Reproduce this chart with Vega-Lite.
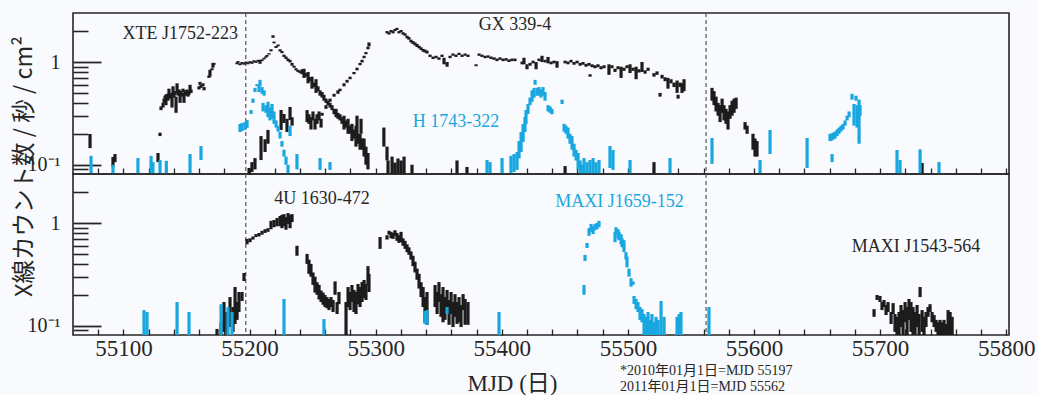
{
  "$schema": "https://vega.github.io/schema/vega-lite/v6.json",
  "background": "#f8fafd",
  "padding": {"left": 11, "top": 11, "right": 31, "bottom": 0},
  "bounds": "flush",
  "spacing": 0,
  "config": {
    "view": {"stroke": "#262626", "strokeWidth": 1.6},
    "axis": {"domain": false, "grid": false, "zindex": 1, "tickColor": "#262626", "labelColor": "#262626", "titleColor": "#262626", "labelFont": "Liberation Serif", "titleFont": "Liberation Serif", "titleFontWeight": "normal", "labelFlush": false, "labelOverlap": false}
  },
  "datasets": {
    "xte": [
      {"mjd":55073.5,"lo":0.145,"hi":0.199},{"mjd":55091.7,"lo":0.095,"hi":0.119},{"mjd":55093.3,"lo":0.106,"hi":0.127},{"mjd":55127.4,"lo":0.106,"hi":0.13},{"mjd":55129.0,"lo":0.19,"hi":0.205},{"mjd":55129.8,"lo":0.34,"hi":0.37},
      {"mjd":55131.4,"lo":0.36,"hi":0.40},{"mjd":55132.2,"lo":0.40,"hi":0.44},{"mjd":55133.0,"lo":0.43,"hi":0.47},{"mjd":55133.7,"lo":0.38,"hi":0.48},{"mjd":55134.5,"lo":0.45,"hi":0.49},{"mjd":55135.3,"lo":0.42,"hi":0.46},{"mjd":55136.1,"lo":0.45,"hi":0.55},{"mjd":55136.9,"lo":0.44,"hi":0.48},{"mjd":55137.7,"lo":0.46,"hi":0.50},{"mjd":55138.5,"lo":0.36,"hi":0.50},{"mjd":55139.3,"lo":0.47,"hi":0.58},{"mjd":55140.1,"lo":0.45,"hi":0.49},{"mjd":55140.9,"lo":0.48,"hi":0.52},{"mjd":55141.7,"lo":0.32,"hi":0.46},{"mjd":55142.5,"lo":0.50,"hi":0.62},{"mjd":55143.3,"lo":0.47,"hi":0.51},{"mjd":55144.1,"lo":0.50,"hi":0.54},{"mjd":55144.9,"lo":0.40,"hi":0.52},{"mjd":55145.6,"lo":0.48,"hi":0.52},{"mjd":55146.4,"lo":0.46,"hi":0.50},{"mjd":55147.2,"lo":0.51,"hi":0.55},{"mjd":55148.0,"lo":0.40,"hi":0.50},{"mjd":55148.8,"lo":0.49,"hi":0.53},{"mjd":55149.6,"lo":0.47,"hi":0.51},{"mjd":55150.4,"lo":0.50,"hi":0.54},{"mjd":55151.2,"lo":0.46,"hi":0.50},{"mjd":55152.0,"lo":0.48,"hi":0.52},{"mjd":55152.8,"lo":0.50,"hi":0.60},{"mjd":55153.6,"lo":0.50,"hi":0.54},
      {"mjd":55159.9,"lo":0.54,"hi":0.58},{"mjd":55160.7,"lo":0.60,"hi":0.64},{"mjd":55161.5,"lo":0.56,"hi":0.60},{"mjd":55163.1,"lo":0.58,"hi":0.62},{"mjd":55163.9,"lo":0.53,"hi":0.57},{"mjd":55167.8,"lo":0.70,"hi":0.74},{"mjd":55168.6,"lo":0.72,"hi":0.84},{"mjd":55170.2,"lo":0.83,"hi":0.87},{"mjd":55171.0,"lo":0.88,"hi":0.98},{"mjd":55171.8,"lo":0.94,"hi":0.98},
      {"mjd":55190.1,"lo":0.95,"hi":0.99},{"mjd":55190.8,"lo":0.98,"hi":1.02},{"mjd":55192.4,"lo":0.93,"hi":0.97},{"mjd":55194.0,"lo":0.96,"hi":1.00},{"mjd":55195.6,"lo":0.94,"hi":0.98},{"mjd":55197.2,"lo":0.97,"hi":1.01},{"mjd":55198.8,"lo":0.95,"hi":0.99},{"mjd":55200.4,"lo":0.98,"hi":1.02},{"mjd":55201.9,"lo":0.96,"hi":1.00},{"mjd":55203.5,"lo":1.00,"hi":1.04},{"mjd":55205.1,"lo":0.98,"hi":1.02},{"mjd":55206.7,"lo":1.01,"hi":1.05},{"mjd":55208.3,"lo":0.96,"hi":1.05},{"mjd":55209.9,"lo":1.02,"hi":1.06},{"mjd":55211.5,"lo":1.06,"hi":1.10},{"mjd":55213.0,"lo":1.10,"hi":1.14},{"mjd":55213.8,"lo":1.13,"hi":1.17},{"mjd":55215.4,"lo":1.18,"hi":1.22},{"mjd":55217.0,"lo":1.27,"hi":1.33},{"mjd":55218.6,"lo":1.72,"hi":1.82},{"mjd":55219.4,"lo":1.52,"hi":1.58},{"mjd":55221.0,"lo":1.37,"hi":1.43},{"mjd":55222.6,"lo":1.42,"hi":1.48},{"mjd":55224.2,"lo":1.27,"hi":1.33},{"mjd":55225.7,"lo":1.22,"hi":1.28},{"mjd":55227.3,"lo":1.12,"hi":1.18},{"mjd":55228.9,"lo":1.07,"hi":1.13},{"mjd":55230.5,"lo":1.02,"hi":1.08},{"mjd":55232.1,"lo":0.99,"hi":1.05},{"mjd":55233.7,"lo":0.92,"hi":0.98},{"mjd":55235.3,"lo":0.88,"hi":0.92},{"mjd":55236.8,"lo":0.83,"hi":0.87},{"mjd":55238.4,"lo":0.80,"hi":0.84},{"mjd":55240.0,"lo":0.78,"hi":0.82},{"mjd":55241.6,"lo":0.76,"hi":0.85},
      {"mjd":55243.2,"lo":0.70,"hi":0.86},{"mjd":55244.8,"lo":0.72,"hi":0.78},{"mjd":55246.4,"lo":0.62,"hi":0.80},{"mjd":55247.9,"lo":0.65,"hi":0.71},{"mjd":55249.5,"lo":0.55,"hi":0.72},{"mjd":55251.1,"lo":0.57,"hi":0.63},{"mjd":55252.7,"lo":0.50,"hi":0.68},{"mjd":55254.3,"lo":0.52,"hi":0.58},{"mjd":55255.9,"lo":0.47,"hi":0.53},{"mjd":55257.5,"lo":0.45,"hi":0.51},{"mjd":55259.0,"lo":0.42,"hi":0.48},{"mjd":55260.6,"lo":0.40,"hi":0.44},{"mjd":55262.2,"lo":0.38,"hi":0.42},{"mjd":55263.8,"lo":0.36,"hi":0.40},{"mjd":55265.4,"lo":0.34,"hi":0.38},{"mjd":55267.0,"lo":0.31,"hi":0.35},{"mjd":55268.6,"lo":0.29,"hi":0.35},{"mjd":55270.1,"lo":0.28,"hi":0.32},{"mjd":55271.7,"lo":0.27,"hi":0.31},{"mjd":55273.3,"lo":0.25,"hi":0.29},{"mjd":55274.9,"lo":0.22,"hi":0.30},{"mjd":55276.5,"lo":0.23,"hi":0.27},{"mjd":55278.1,"lo":0.20,"hi":0.28},{"mjd":55279.7,"lo":0.20,"hi":0.24},{"mjd":55281.2,"lo":0.17,"hi":0.25},{"mjd":55282.8,"lo":0.18,"hi":0.22},{"mjd":55284.4,"lo":0.15,"hi":0.24},{"mjd":55285.2,"lo":0.19,"hi":0.30},{"mjd":55286.0,"lo":0.16,"hi":0.20},{"mjd":55287.6,"lo":0.14,"hi":0.20},{"mjd":55288.4,"lo":0.20,"hi":0.28},{"mjd":55289.2,"lo":0.14,"hi":0.18},{"mjd":55290.8,"lo":0.12,"hi":0.18},{"mjd":55292.3,"lo":0.10,"hi":0.15},{"mjd":55293.9,"lo":0.09,"hi":0.13},
      {"mjd":55306.5,"lo":0.15,"hi":0.23},{"mjd":55309.0,"lo":0.11,"hi":0.15},{"mjd":55309.8,"lo":0.07,"hi":0.11},{"mjd":55313.0,"lo":0.07,"hi":0.12},{"mjd":55315.3,"lo":0.075,"hi":0.105},{"mjd":55317.7,"lo":0.07,"hi":0.115},{"mjd":55320.1,"lo":0.07,"hi":0.11},{"mjd":55322.5,"lo":0.075,"hi":0.12},{"mjd":55328.8,"lo":0.08,"hi":0.1},{"mjd":55364.5,"lo":0.08,"hi":0.11},{"mjd":55372.4,"lo":0.075,"hi":0.095},{"mjd":55450.2,"lo":0.078,"hi":0.097},{"mjd":55520.7,"lo":0.078,"hi":0.106},{"mjd":55733.3,"lo":0.078,"hi":0.104}
    ],
    "gx": [
      {"mjd":55199.6,"lo":0.078,"hi":0.093},{"mjd":55201.9,"lo":0.085,"hi":0.106},{"mjd":55204.3,"lo":0.09,"hi":0.116},{"mjd":55209.1,"lo":0.111,"hi":0.19},{"mjd":55212.3,"lo":0.133,"hi":0.177},{"mjd":55214.6,"lo":0.16,"hi":0.218},{"mjd":55225.0,"lo":0.218,"hi":0.341},{"mjd":55227.3,"lo":0.255,"hi":0.312},{"mjd":55229.7,"lo":0.208,"hi":0.28},{"mjd":55232.1,"lo":0.272,"hi":0.365},{"mjd":55233.7,"lo":0.24,"hi":0.29},
      {"mjd":55245.6,"lo":0.26,"hi":0.34},{"mjd":55247.1,"lo":0.25,"hi":0.31},{"mjd":55248.7,"lo":0.22,"hi":0.29},{"mjd":55250.3,"lo":0.27,"hi":0.33},{"mjd":55251.9,"lo":0.22,"hi":0.28},{"mjd":55253.5,"lo":0.25,"hi":0.31},{"mjd":55255.1,"lo":0.27,"hi":0.33},{"mjd":55256.7,"lo":0.23,"hi":0.28},
      {"mjd":55257.5,"lo":0.30,"hi":0.32},{"mjd":55260.6,"lo":0.35,"hi":0.38},{"mjd":55263.8,"lo":0.41,"hi":0.44},{"mjd":55267.0,"lo":0.46,"hi":0.49},{"mjd":55270.1,"lo":0.49,"hi":0.53},{"mjd":55271.7,"lo":0.52,"hi":0.55},{"mjd":55274.9,"lo":0.58,"hi":0.62},{"mjd":55277.3,"lo":0.63,"hi":0.67},{"mjd":55279.7,"lo":0.68,"hi":0.72},{"mjd":55282.8,"lo":0.76,"hi":0.80},{"mjd":55285.2,"lo":0.83,"hi":0.88},{"mjd":55287.6,"lo":0.93,"hi":0.98},{"mjd":55289.2,"lo":0.99,"hi":1.05},{"mjd":55290.8,"lo":1.09,"hi":1.15},{"mjd":55292.3,"lo":1.19,"hi":1.25},{"mjd":55293.9,"lo":1.33,"hi":1.41},{"mjd":55294.7,"lo":1.42,"hi":1.55},
      {"mjd":55309.0,"lo":1.90,"hi":2.00},{"mjd":55310.6,"lo":1.85,"hi":1.95},{"mjd":55312.2,"lo":1.95,"hi":2.05},{"mjd":55313.8,"lo":1.90,"hi":2.00},{"mjd":55315.3,"lo":2.00,"hi":2.10},{"mjd":55316.9,"lo":2.05,"hi":2.15},{"mjd":55318.5,"lo":1.90,"hi":2.00},{"mjd":55320.1,"lo":1.95,"hi":2.05},{"mjd":55321.7,"lo":1.85,"hi":1.95},{"mjd":55323.3,"lo":1.80,"hi":1.90},{"mjd":55324.9,"lo":1.70,"hi":1.80},{"mjd":55326.4,"lo":1.65,"hi":1.75},{"mjd":55328.0,"lo":1.55,"hi":1.65},{"mjd":55329.6,"lo":1.50,"hi":1.60},{"mjd":55331.2,"lo":1.45,"hi":1.55},{"mjd":55332.8,"lo":1.40,"hi":1.50},{"mjd":55334.4,"lo":1.36,"hi":1.44},{"mjd":55336.0,"lo":1.31,"hi":1.39},{"mjd":55337.6,"lo":1.26,"hi":1.34},{"mjd":55339.1,"lo":1.24,"hi":1.32},{"mjd":55340.7,"lo":1.21,"hi":1.29},
      {"mjd":55343.1,"lo":1.12,"hi":1.18},{"mjd":55345.5,"lo":1.07,"hi":1.13},{"mjd":55347.9,"lo":1.09,"hi":1.15},{"mjd":55350.2,"lo":1.05,"hi":1.11},{"mjd":55352.6,"lo":1.12,"hi":1.18},{"mjd":55354.2,"lo":0.95,"hi":1.10},{"mjd":55356.6,"lo":0.90,"hi":1.00},{"mjd":55359.0,"lo":1.09,"hi":1.15},{"mjd":55361.3,"lo":1.15,"hi":1.21},{"mjd":55363.7,"lo":1.12,"hi":1.18},{"mjd":55366.1,"lo":1.17,"hi":1.23},{"mjd":55368.5,"lo":1.12,"hi":1.18},{"mjd":55370.9,"lo":1.15,"hi":1.21},{"mjd":55373.2,"lo":1.12,"hi":1.18},
      {"mjd":55379.6,"lo":0.91,"hi":0.95},{"mjd":55382.0,"lo":1.15,"hi":1.21},{"mjd":55384.3,"lo":1.12,"hi":1.18},{"mjd":55386.7,"lo":1.09,"hi":1.15},{"mjd":55389.1,"lo":1.10,"hi":1.16},{"mjd":55391.5,"lo":1.07,"hi":1.13},{"mjd":55393.9,"lo":1.05,"hi":1.11},{"mjd":55396.2,"lo":1.02,"hi":1.08},{"mjd":55398.6,"lo":1.05,"hi":1.11},{"mjd":55401.0,"lo":1.02,"hi":1.08},{"mjd":55403.4,"lo":1.03,"hi":1.09},{"mjd":55405.7,"lo":1.00,"hi":1.06},{"mjd":55408.1,"lo":1.02,"hi":1.08},{"mjd":55410.5,"lo":1.02,"hi":1.08},
      {"mjd":55416.1,"lo":0.95,"hi":1.01},{"mjd":55417.6,"lo":0.95,"hi":1.10},{"mjd":55420.0,"lo":0.85,"hi":0.95},{"mjd":55422.4,"lo":0.92,"hi":0.98},{"mjd":55424.8,"lo":0.97,"hi":1.03},{"mjd":55427.2,"lo":0.85,"hi":1.00},{"mjd":55429.5,"lo":1.02,"hi":1.08},{"mjd":55431.9,"lo":1.00,"hi":1.15},{"mjd":55434.3,"lo":0.99,"hi":1.05},{"mjd":55436.7,"lo":0.97,"hi":1.12},{"mjd":55439.1,"lo":0.95,"hi":1.01},{"mjd":55441.4,"lo":0.97,"hi":1.03},{"mjd":55443.8,"lo":0.88,"hi":1.02},
      {"mjd":55450.2,"lo":0.97,"hi":1.03},{"mjd":55452.5,"lo":0.95,"hi":1.01},{"mjd":55454.9,"lo":0.99,"hi":1.05},{"mjd":55457.3,"lo":0.94,"hi":1.00},{"mjd":55459.7,"lo":0.97,"hi":1.03},{"mjd":55462.1,"lo":0.92,"hi":0.98},{"mjd":55464.4,"lo":0.94,"hi":1.00},{"mjd":55466.8,"lo":0.90,"hi":0.96},{"mjd":55469.2,"lo":0.92,"hi":0.98},{"mjd":55470.0,"lo":0.72,"hi":0.76},{"mjd":55471.6,"lo":0.89,"hi":0.95},{"mjd":55473.9,"lo":0.87,"hi":0.93},{"mjd":55476.3,"lo":0.89,"hi":0.95},{"mjd":55478.7,"lo":0.85,"hi":0.91},{"mjd":55481.1,"lo":0.87,"hi":0.93},
      {"mjd":55485.0,"lo":0.75,"hi":0.95},{"mjd":55487.4,"lo":0.87,"hi":0.93},{"mjd":55489.8,"lo":0.80,"hi":0.86},{"mjd":55492.2,"lo":0.85,"hi":0.91},{"mjd":55494.6,"lo":0.70,"hi":0.90},{"mjd":55496.9,"lo":0.82,"hi":0.88},{"mjd":55499.3,"lo":0.87,"hi":0.93},{"mjd":55501.7,"lo":0.78,"hi":0.95},{"mjd":55504.1,"lo":0.82,"hi":0.88},{"mjd":55506.5,"lo":0.68,"hi":0.90},{"mjd":55508.8,"lo":0.79,"hi":0.85},{"mjd":55511.2,"lo":0.80,"hi":1.00},{"mjd":55513.6,"lo":0.77,"hi":0.83},{"mjd":55516.0,"lo":0.82,"hi":0.88},
      {"mjd":55520.7,"lo":0.72,"hi":0.78},{"mjd":55523.1,"lo":0.75,"hi":0.81},{"mjd":55525.5,"lo":0.46,"hi":0.50},{"mjd":55527.1,"lo":0.69,"hi":0.75},{"mjd":55529.5,"lo":0.65,"hi":0.71},{"mjd":55531.8,"lo":0.55,"hi":0.70},{"mjd":55534.2,"lo":0.62,"hi":0.68},{"mjd":55536.6,"lo":0.57,"hi":0.63},{"mjd":55539.0,"lo":0.50,"hi":0.66},{"mjd":55539.8,"lo":0.44,"hi":0.48},{"mjd":55541.4,"lo":0.57,"hi":0.63},{"mjd":55542.9,"lo":0.50,"hi":0.62},{"mjd":55544.5,"lo":0.52,"hi":0.68},
      {"mjd":55566.7,"lo":0.42,"hi":0.56},{"mjd":55568.3,"lo":0.38,"hi":0.52},{"mjd":55569.9,"lo":0.33,"hi":0.46},{"mjd":55571.5,"lo":0.30,"hi":0.40},{"mjd":55573.1,"lo":0.26,"hi":0.38},{"mjd":55574.7,"lo":0.32,"hi":0.44},{"mjd":55576.2,"lo":0.27,"hi":0.38},{"mjd":55577.8,"lo":0.25,"hi":0.35},{"mjd":55579.4,"lo":0.22,"hi":0.33},{"mjd":55581.0,"lo":0.28,"hi":0.38},{"mjd":55582.6,"lo":0.30,"hi":0.42},{"mjd":55584.2,"lo":0.32,"hi":0.44},{"mjd":55585.8,"lo":0.35,"hi":0.45},{"mjd":55592.9,"lo":0.22,"hi":0.26},{"mjd":55594.5,"lo":0.20,"hi":0.24},{"mjd":55599.2,"lo":0.14,"hi":0.20},{"mjd":55600.8,"lo":0.12,"hi":0.18},{"mjd":55602.4,"lo":0.12,"hi":0.17}
    ],
    "h1743": [
      {"mjd":55074.3,"lo":0.07,"hi":0.122},{"mjd":55091.7,"lo":0.07,"hi":0.10},{"mjd":55111.5,"lo":0.07,"hi":0.116},{"mjd":55121.9,"lo":0.07,"hi":0.122},{"mjd":55123.4,"lo":0.07,"hi":0.106},{"mjd":55129.0,"lo":0.07,"hi":0.111},{"mjd":55134.0,"lo":0.07,"hi":0.109},{"mjd":55152.8,"lo":0.07,"hi":0.127},{"mjd":55161.5,"lo":0.111,"hi":0.152},
      {"mjd":55192.4,"lo":0.208,"hi":0.249},{"mjd":55194.0,"lo":0.213,"hi":0.255},{"mjd":55196.4,"lo":0.218,"hi":0.26},{"mjd":55198.0,"lo":0.228,"hi":0.272},{"mjd":55201.2,"lo":0.312,"hi":0.341},{"mjd":55202.7,"lo":0.40,"hi":0.44},{"mjd":55204.3,"lo":0.51,"hi":0.56},{"mjd":55205.9,"lo":0.58,"hi":0.61},{"mjd":55207.5,"lo":0.51,"hi":0.60},{"mjd":55208.3,"lo":0.58,"hi":0.67},{"mjd":55209.9,"lo":0.49,"hi":0.57},{"mjd":55211.5,"lo":0.47,"hi":0.53},{"mjd":55210.7,"lo":0.33,"hi":0.40},{"mjd":55213.0,"lo":0.32,"hi":0.38},{"mjd":55214.6,"lo":0.29,"hi":0.41},{"mjd":55216.2,"lo":0.27,"hi":0.36},{"mjd":55217.8,"lo":0.28,"hi":0.39},{"mjd":55219.4,"lo":0.25,"hi":0.33},{"mjd":55221.0,"lo":0.23,"hi":0.27},{"mjd":55222.6,"lo":0.21,"hi":0.24},{"mjd":55224.2,"lo":0.18,"hi":0.21},{"mjd":55225.7,"lo":0.15,"hi":0.17},{"mjd":55227.3,"lo":0.12,"hi":0.14},{"mjd":55228.9,"lo":0.10,"hi":0.12},{"mjd":55230.5,"lo":0.07,"hi":0.10},{"mjd":55232.1,"lo":0.19,"hi":0.24},
      {"mjd":55237.6,"lo":0.09,"hi":0.127},{"mjd":55255.9,"lo":0.089,"hi":0.116},{"mjd":55263.8,"lo":0.089,"hi":0.106},
      {"mjd":55388.3,"lo":0.07,"hi":0.111},{"mjd":55390.7,"lo":0.07,"hi":0.106},{"mjd":55400.2,"lo":0.07,"hi":0.116},{"mjd":55407.3,"lo":0.07,"hi":0.122},{"mjd":55409.7,"lo":0.085,"hi":0.127},{"mjd":55412.1,"lo":0.089,"hi":0.133},{"mjd":55413.7,"lo":0.115,"hi":0.17},{"mjd":55415.3,"lo":0.133,"hi":0.208},{"mjd":55416.9,"lo":0.166,"hi":0.249},{"mjd":55418.4,"lo":0.208,"hi":0.291},{"mjd":55419.2,"lo":0.249,"hi":0.341},{"mjd":55420.8,"lo":0.312,"hi":0.39},{"mjd":55422.4,"lo":0.38,"hi":0.45},{"mjd":55424.0,"lo":0.41,"hi":0.53},{"mjd":55425.6,"lo":0.45,"hi":0.56},{"mjd":55426.4,"lo":0.60,"hi":0.67},{"mjd":55428.0,"lo":0.47,"hi":0.56},{"mjd":55429.5,"lo":0.47,"hi":0.57},{"mjd":55431.1,"lo":0.45,"hi":0.54},{"mjd":55432.7,"lo":0.47,"hi":0.57},{"mjd":55434.3,"lo":0.42,"hi":0.51},{"mjd":55436.7,"lo":0.33,"hi":0.38},{"mjd":55438.3,"lo":0.32,"hi":0.37},{"mjd":55439.8,"lo":0.31,"hi":0.35},{"mjd":55447.8,"lo":0.39,"hi":0.43},{"mjd":55449.4,"lo":0.21,"hi":0.25},{"mjd":55450.9,"lo":0.20,"hi":0.24},{"mjd":55452.5,"lo":0.18,"hi":0.23},{"mjd":55454.1,"lo":0.16,"hi":0.20},{"mjd":55455.7,"lo":0.14,"hi":0.19},{"mjd":55457.3,"lo":0.12,"hi":0.16},{"mjd":55458.9,"lo":0.11,"hi":0.14},{"mjd":55460.5,"lo":0.09,"hi":0.13},{"mjd":55462.1,"lo":0.07,"hi":0.11},{"mjd":55463.6,"lo":0.07,"hi":0.10},{"mjd":55465.2,"lo":0.07,"hi":0.116},{"mjd":55467.6,"lo":0.07,"hi":0.106},{"mjd":55470.0,"lo":0.07,"hi":0.111},{"mjd":55472.4,"lo":0.07,"hi":0.116},{"mjd":55474.7,"lo":0.07,"hi":0.106},{"mjd":55477.1,"lo":0.07,"hi":0.111},{"mjd":55485.8,"lo":0.093,"hi":0.152},{"mjd":55488.2,"lo":0.089,"hi":0.139},{"mjd":55501.7,"lo":0.07,"hi":0.111},{"mjd":55533.4,"lo":0.07,"hi":0.116},
      {"mjd":55566.7,"lo":0.102,"hi":0.182},{"mjd":55604.8,"lo":0.07,"hi":0.111},{"mjd":55612.7,"lo":0.127,"hi":0.218},{"mjd":55642.1,"lo":0.093,"hi":0.182},{"mjd":55661.9,"lo":0.106,"hi":0.127},
      {"mjd":55660.3,"lo":0.17,"hi":0.20},{"mjd":55661.1,"lo":0.17,"hi":0.20},{"mjd":55662.7,"lo":0.175,"hi":0.205},{"mjd":55664.3,"lo":0.18,"hi":0.21},{"mjd":55665.9,"lo":0.19,"hi":0.22},{"mjd":55667.4,"lo":0.20,"hi":0.23},{"mjd":55669.0,"lo":0.21,"hi":0.24},{"mjd":55670.6,"lo":0.22,"hi":0.25},{"mjd":55672.2,"lo":0.24,"hi":0.27},{"mjd":55673.8,"lo":0.27,"hi":0.30},{"mjd":55675.4,"lo":0.29,"hi":0.33},{"mjd":55677.7,"lo":0.43,"hi":0.49},{"mjd":55679.3,"lo":0.24,"hi":0.39},{"mjd":55680.9,"lo":0.42,"hi":0.47},{"mjd":55681.7,"lo":0.23,"hi":0.38},{"mjd":55683.3,"lo":0.16,"hi":0.43},{"mjd":55684.1,"lo":0.30,"hi":0.38},
      {"mjd":55713.4,"lo":0.07,"hi":0.139},{"mjd":55715.8,"lo":0.07,"hi":0.111},{"mjd":55731.7,"lo":0.07,"hi":0.141},{"mjd":55746.7,"lo":0.07,"hi":0.106}
    ],
    "u1630": [
      {"mjd":55174.2,"lo":0.078,"hi":0.093},{"mjd":55177.4,"lo":0.078,"hi":0.108},{"mjd":55179.7,"lo":0.087,"hi":0.17},{"mjd":55182.1,"lo":0.081,"hi":0.136},{"mjd":55184.5,"lo":0.097,"hi":0.19},{"mjd":55186.9,"lo":0.087,"hi":0.152},{"mjd":55188.5,"lo":0.104,"hi":0.238},{"mjd":55190.1,"lo":0.114,"hi":0.17},{"mjd":55191.6,"lo":0.136,"hi":0.213},{"mjd":55194.0,"lo":0.174,"hi":0.213},{"mjd":55195.6,"lo":0.272,"hi":0.326},
      {"mjd":55198.0,"lo":0.62,"hi":0.70},{"mjd":55200.4,"lo":0.65,"hi":0.71},{"mjd":55202.7,"lo":0.69,"hi":0.74},{"mjd":55205.1,"lo":0.73,"hi":0.78},{"mjd":55207.5,"lo":0.74,"hi":0.80},{"mjd":55209.9,"lo":0.77,"hi":0.84},{"mjd":55212.3,"lo":0.80,"hi":0.87},{"mjd":55214.6,"lo":0.82,"hi":0.89},{"mjd":55217.0,"lo":0.87,"hi":1.05},{"mjd":55219.4,"lo":0.91,"hi":1.07},{"mjd":55221.8,"lo":0.93,"hi":1.12},{"mjd":55224.2,"lo":0.93,"hi":1.17},{"mjd":55225.7,"lo":0.89,"hi":1.2},{"mjd":55227.3,"lo":0.93,"hi":1.22},{"mjd":55228.9,"lo":0.86,"hi":1.14},{"mjd":55230.5,"lo":0.98,"hi":1.25},{"mjd":55232.1,"lo":0.89,"hi":1.2},{"mjd":55233.7,"lo":1.02,"hi":1.22},
      {"mjd":55237.6,"lo":0.48,"hi":0.60},{"mjd":55245.6,"lo":0.40,"hi":0.50},{"mjd":55247.1,"lo":0.32,"hi":0.44},{"mjd":55248.7,"lo":0.30,"hi":0.40},{"mjd":55250.3,"lo":0.25,"hi":0.33},{"mjd":55251.9,"lo":0.21,"hi":0.30},{"mjd":55253.5,"lo":0.20,"hi":0.265},{"mjd":55255.1,"lo":0.18,"hi":0.25},{"mjd":55256.7,"lo":0.17,"hi":0.22},{"mjd":55258.3,"lo":0.16,"hi":0.21},{"mjd":55259.8,"lo":0.152,"hi":0.199},{"mjd":55261.4,"lo":0.148,"hi":0.19},{"mjd":55263.0,"lo":0.142,"hi":0.182},{"mjd":55264.6,"lo":0.152,"hi":0.19},{"mjd":55266.2,"lo":0.136,"hi":0.178},{"mjd":55267.8,"lo":0.20,"hi":0.27},{"mjd":55269.4,"lo":0.13,"hi":0.17},{"mjd":55270.9,"lo":0.162,"hi":0.213},
      {"mjd":55276.5,"lo":0.07,"hi":0.17},{"mjd":55278.1,"lo":0.152,"hi":0.238},{"mjd":55279.7,"lo":0.142,"hi":0.213},{"mjd":55281.2,"lo":0.17,"hi":0.249},{"mjd":55282.8,"lo":0.136,"hi":0.223},{"mjd":55284.4,"lo":0.13,"hi":0.213},{"mjd":55286.0,"lo":0.162,"hi":0.255},{"mjd":55287.6,"lo":0.152,"hi":0.238},{"mjd":55289.2,"lo":0.17,"hi":0.266},{"mjd":55290.8,"lo":0.186,"hi":0.279},{"mjd":55292.3,"lo":0.178,"hi":0.255},{"mjd":55293.9,"lo":0.249,"hi":0.38},{"mjd":55294.7,"lo":0.213,"hi":0.319},
      {"mjd":55303.5,"lo":0.56,"hi":0.73},{"mjd":55309.0,"lo":0.69,"hi":0.76},{"mjd":55310.6,"lo":0.77,"hi":0.84},{"mjd":55312.2,"lo":0.71,"hi":0.82},{"mjd":55313.8,"lo":0.70,"hi":0.80},{"mjd":55315.3,"lo":0.75,"hi":0.85},{"mjd":55316.9,"lo":0.67,"hi":0.80},{"mjd":55318.5,"lo":0.64,"hi":0.76},{"mjd":55320.1,"lo":0.65,"hi":0.82},{"mjd":55321.7,"lo":0.60,"hi":0.71},{"mjd":55323.3,"lo":0.56,"hi":0.67},{"mjd":55324.9,"lo":0.52,"hi":0.62},{"mjd":55326.4,"lo":0.49,"hi":0.58},{"mjd":55328.0,"lo":0.44,"hi":0.53},{"mjd":55329.6,"lo":0.38,"hi":0.48},{"mjd":55331.2,"lo":0.33,"hi":0.42},{"mjd":55332.8,"lo":0.28,"hi":0.36},{"mjd":55334.4,"lo":0.23,"hi":0.32},{"mjd":55336.0,"lo":0.19,"hi":0.265},{"mjd":55337.6,"lo":0.152,"hi":0.238},{"mjd":55339.1,"lo":0.108,"hi":0.19},{"mjd":55340.7,"lo":0.102,"hi":0.213},
      {"mjd":55347.1,"lo":0.152,"hi":0.249},{"mjd":55348.7,"lo":0.13,"hi":0.213},{"mjd":55350.2,"lo":0.17,"hi":0.266},{"mjd":55351.8,"lo":0.122,"hi":0.203},{"mjd":55353.4,"lo":0.108,"hi":0.238},{"mjd":55355.0,"lo":0.114,"hi":0.19},{"mjd":55356.6,"lo":0.136,"hi":0.223},{"mjd":55358.2,"lo":0.102,"hi":0.178},{"mjd":55359.8,"lo":0.13,"hi":0.213},{"mjd":55361.3,"lo":0.097,"hi":0.17},{"mjd":55362.9,"lo":0.122,"hi":0.203},{"mjd":55364.5,"lo":0.104,"hi":0.17},{"mjd":55366.1,"lo":0.108,"hi":0.19},{"mjd":55367.7,"lo":0.097,"hi":0.159},{"mjd":55369.3,"lo":0.142,"hi":0.203},{"mjd":55370.9,"lo":0.102,"hi":0.182},{"mjd":55373.2,"lo":0.102,"hi":0.17}
    ],
    "j1659": [
      {"mjd":55116.3,"lo":0.07,"hi":0.142},{"mjd":55118.7,"lo":0.07,"hi":0.136},{"mjd":55142.5,"lo":0.07,"hi":0.17},{"mjd":55152.0,"lo":0.07,"hi":0.136},{"mjd":55177.4,"lo":0.07,"hi":0.162},{"mjd":55182.9,"lo":0.07,"hi":0.152},{"mjd":55186.1,"lo":0.07,"hi":0.136},{"mjd":55227.3,"lo":0.07,"hi":0.182},{"mjd":55259.0,"lo":0.07,"hi":0.116},{"mjd":55339.1,"lo":0.104,"hi":0.139},{"mjd":55340.7,"lo":0.102,"hi":0.142},{"mjd":55356.6,"lo":0.13,"hi":0.152},{"mjd":55397.8,"lo":0.07,"hi":0.136},
      {"mjd":55465.2,"lo":0.20,"hi":0.249},{"mjd":55466.0,"lo":0.427,"hi":0.488},{"mjd":55467.6,"lo":0.571,"hi":0.639},{"mjd":55469.2,"lo":0.75,"hi":0.89},{"mjd":55470.8,"lo":0.82,"hi":0.98},{"mjd":55472.4,"lo":0.78,"hi":0.93},{"mjd":55473.9,"lo":0.85,"hi":0.98},{"mjd":55475.5,"lo":0.87,"hi":1.0},{"mjd":55477.1,"lo":0.91,"hi":1.05},
      {"mjd":55489.8,"lo":0.65,"hi":0.82},{"mjd":55490.6,"lo":0.78,"hi":0.91},{"mjd":55492.2,"lo":0.71,"hi":0.87},{"mjd":55493.0,"lo":0.68,"hi":0.82},{"mjd":55494.6,"lo":0.62,"hi":0.78},{"mjd":55495.4,"lo":0.58,"hi":0.71},{"mjd":55496.9,"lo":0.52,"hi":0.68},{"mjd":55498.5,"lo":0.44,"hi":0.52},{"mjd":55499.3,"lo":0.37,"hi":0.47},{"mjd":55500.9,"lo":0.30,"hi":0.36},{"mjd":55502.5,"lo":0.24,"hi":0.29},{"mjd":55504.1,"lo":0.25,"hi":0.27},{"mjd":55504.9,"lo":0.163,"hi":0.195},{"mjd":55506.5,"lo":0.145,"hi":0.182},{"mjd":55508.0,"lo":0.136,"hi":0.17},{"mjd":55509.6,"lo":0.114,"hi":0.152},{"mjd":55511.2,"lo":0.108,"hi":0.145},{"mjd":55512.8,"lo":0.07,"hi":0.13},{"mjd":55514.4,"lo":0.07,"hi":0.122},{"mjd":55516.0,"lo":0.07,"hi":0.136},{"mjd":55517.6,"lo":0.07,"hi":0.114},{"mjd":55519.1,"lo":0.07,"hi":0.13},{"mjd":55520.7,"lo":0.07,"hi":0.108},{"mjd":55522.3,"lo":0.07,"hi":0.122},{"mjd":55523.9,"lo":0.07,"hi":0.114},{"mjd":55526.3,"lo":0.07,"hi":0.174},{"mjd":55528.7,"lo":0.07,"hi":0.122},{"mjd":55539.0,"lo":0.07,"hi":0.122},{"mjd":55540.6,"lo":0.07,"hi":0.13},{"mjd":55542.1,"lo":0.07,"hi":0.136},{"mjd":55564.3,"lo":0.07,"hi":0.152}
    ],
    "j1543": [
      {"mjd":55695.2,"lo":0.122,"hi":0.145},{"mjd":55697.6,"lo":0.178,"hi":0.199},{"mjd":55699.9,"lo":0.17,"hi":0.195},{"mjd":55701.5,"lo":0.142,"hi":0.17},{"mjd":55703.1,"lo":0.152,"hi":0.178},{"mjd":55704.7,"lo":0.127,"hi":0.159},{"mjd":55706.3,"lo":0.136,"hi":0.17},{"mjd":55708.7,"lo":0.104,"hi":0.136},{"mjd":55710.3,"lo":0.13,"hi":0.166},{"mjd":55711.8,"lo":0.087,"hi":0.13},{"mjd":55713.4,"lo":0.07,"hi":0.122},{"mjd":55715.0,"lo":0.07,"hi":0.136},{"mjd":55716.6,"lo":0.097,"hi":0.159},{"mjd":55718.2,"lo":0.07,"hi":0.142},{"mjd":55719.8,"lo":0.108,"hi":0.17},{"mjd":55721.4,"lo":0.07,"hi":0.152},{"mjd":55722.9,"lo":0.114,"hi":0.182},{"mjd":55724.5,"lo":0.087,"hi":0.17},{"mjd":55726.1,"lo":0.07,"hi":0.152},{"mjd":55727.7,"lo":0.07,"hi":0.136},{"mjd":55729.3,"lo":0.097,"hi":0.159},{"mjd":55730.9,"lo":0.07,"hi":0.13},{"mjd":55731.7,"lo":0.19,"hi":0.238},{"mjd":55733.3,"lo":0.087,"hi":0.142},{"mjd":55734.8,"lo":0.07,"hi":0.122},{"mjd":55736.4,"lo":0.097,"hi":0.136},{"mjd":55738.0,"lo":0.122,"hi":0.152},{"mjd":55739.6,"lo":0.136,"hi":0.162},{"mjd":55741.2,"lo":0.108,"hi":0.136},{"mjd":55742.8,"lo":0.097,"hi":0.127},{"mjd":55744.4,"lo":0.087,"hi":0.114},{"mjd":55745.9,"lo":0.07,"hi":0.108},{"mjd":55747.5,"lo":0.07,"hi":0.114},{"mjd":55749.1,"lo":0.07,"hi":0.108},{"mjd":55750.7,"lo":0.07,"hi":0.114},{"mjd":55752.3,"lo":0.07,"hi":0.104},{"mjd":55753.9,"lo":0.07,"hi":0.142},{"mjd":55755.5,"lo":0.07,"hi":0.136},{"mjd":55757.1,"lo":0.07,"hi":0.122}
    ],
    "epochs": [{"mjd": 55197}, {"mjd": 55562}]
  },
  "vconcat": [
    {
      "width": 936,
      "height": 161,
      "resolve": {"axis": {"y": "independent"}},
      "encoding": {
        "x": {"field": "mjd", "type": "quantitative", "scale": {"domain": [55060, 55802.2], "nice": false, "zero": false},
          "axis": {"values": [55080,55100,55120,55140,55160,55180,55200,55220,55240,55260,55280,55300,55320,55340,55360,55380,55400,55420,55440,55460,55480,55500,55520,55540,55560,55580,55600,55620,55640,55660,55680,55700,55720,55740,55760,55780,55800], "labels": false, "tickSize": -6, "tickWidth": 1.3, "title": null}}
      },
      "layer": [
        {"data": {"name": "epochs"}, "mark": {"type": "rule", "color": "#555555", "strokeDash": [4, 3], "strokeWidth": 1.2}, "encoding": {}},
        {"data": {"name": "xte"}, "mark": {"type": "rule", "color": "#1c1c1c", "strokeWidth": 3.2, "clip": true},
          "encoding": {
            "y": {"field": "lo", "type": "quantitative", "scale": {"type": "log", "domain": [0.0812, 3.0], "nice": false},
              "axis": {"orient": "left", "values": [0.09,0.2,0.3,0.4,0.5,0.6,0.7,0.8,0.9,2], "tickSize": -15, "tickWidth": 1.6, "labels": false, "title": null}},
            "y2": {"field": "hi"}
          }},
        {"data": {"name": "gx"}, "mark": {"type": "rule", "color": "#1c1c1c", "strokeWidth": 3.2, "clip": true},
          "encoding": {
            "y": {"field": "lo", "type": "quantitative", "scale": {"type": "log", "domain": [0.0812, 3.0], "nice": false},
              "axis": {"orient": "left", "values": [0.1, 1], "tickSize": -28, "tickWidth": 1.8,
                "labelExpr": "datum.value === 1 ? '1' : '10⁻¹'",
                "labelFontSize": 20, "labelPadding": 41, "labelBaseline": "middle",
                "title": "X線カウント数 / 秒 / cm²", "titleFont": "Noto Sans CJK JP", "titleFontSize": 23.5,
                "titleX": -49, "titleY": 153, "titleAngle": 270, "titleAlign": "center", "titleBaseline": "middle"}},
            "y2": {"field": "hi"}
          }},
        {"data": {"name": "h1743"}, "mark": {"type": "rule", "color": "#19a7e0", "strokeWidth": 3.2, "clip": true},
          "encoding": {"y": {"field": "lo", "type": "quantitative", "scale": {"type": "log", "domain": [0.0812, 3.0], "nice": false}, "axis": null}, "y2": {"field": "hi"}}},
        {"data": {"values": [
            {"name": "XTE J1752-223", "mjd": 55145, "rate": 1.87},
            {"name": "GX 339-4", "mjd": 55410.5, "rate": 2.27},
            {"name": "H 1743-322", "mjd": 55363.7, "rate": 0.26}
          ]},
          "mark": {"type": "text", "font": "Liberation Serif", "fontSize": 18, "align": "center", "baseline": "middle"},
          "encoding": {
            "y": {"field": "rate", "type": "quantitative", "scale": {"type": "log", "domain": [0.0812, 3.0], "nice": false}, "axis": null},
            "text": {"field": "name"},
            "color": {"field": "name", "type": "nominal", "legend": null,
              "scale": {"domain": ["XTE J1752-223", "GX 339-4", "H 1743-322", "4U 1630-472", "MAXI J1659-152", "MAXI J1543-564"], "range": ["#262626", "#262626", "#19a7e0", "#262626", "#19a7e0", "#262626"]}}
          }}
      ]
    },
    {
      "width": 936,
      "height": 161,
      "resolve": {"axis": {"y": "independent"}},
      "title": {"text": ["*2010年01月1日=MJD 55197", "\u00a02011年01月1日=MJD 55562"], "orient": "bottom", "anchor": "start", "frame": "group", "dx": 547, "offset": -31, "font": "Liberation Serif, Noto Sans CJK JP", "fontSize": 14, "fontWeight": "normal", "color": "#262626", "lineHeight": 16},
      "encoding": {
        "x": {"field": "mjd", "type": "quantitative", "scale": {"domain": [55060, 55802.2], "nice": false, "zero": false},
          "axis": {"values": [55080,55100,55120,55140,55160,55180,55200,55220,55240,55260,55280,55300,55320,55340,55360,55380,55400,55420,55440,55460,55480,55500,55520,55540,55560,55580,55600,55620,55640,55660,55680,55700,55720,55740,55760,55780,55800],
            "tickSize": -6, "tickWidth": 1.3,
            "labelExpr": "datum.value % 100 === 0 ? format(datum.value, 'd') : ''",
            "labelFontSize": 23, "labelPadding": 8,
            "title": "MJD (日)", "titleFont": "Liberation Serif, Noto Sans CJK JP", "titleFontSize": 23,
            "titleX": 439, "titleY": 55, "titleAlign": "center", "titleBaseline": "alphabetic"}}
      },
      "layer": [
        {"data": {"name": "epochs"}, "mark": {"type": "rule", "color": "#555555", "strokeDash": [4, 3], "strokeWidth": 1.2}, "encoding": {}},
        {"data": {"name": "u1630"}, "mark": {"type": "rule", "color": "#1c1c1c", "strokeWidth": 3.2, "clip": true},
          "encoding": {
            "y": {"field": "lo", "type": "quantitative", "scale": {"type": "log", "domain": [0.0812, 3.0], "nice": false},
              "axis": {"orient": "left", "values": [0.09,0.2,0.3,0.4,0.5,0.6,0.7,0.8,0.9,2], "tickSize": -15, "tickWidth": 1.6, "labels": false, "title": null}},
            "y2": {"field": "hi"}
          }},
        {"data": {"name": "j1543"}, "mark": {"type": "rule", "color": "#1c1c1c", "strokeWidth": 3.2, "clip": true},
          "encoding": {
            "y": {"field": "lo", "type": "quantitative", "scale": {"type": "log", "domain": [0.0812, 3.0], "nice": false},
              "axis": {"orient": "left", "values": [0.1, 1], "tickSize": -28, "tickWidth": 1.8,
                "labelExpr": "datum.value === 1 ? '1' : '10⁻¹'",
                "labelFontSize": 20, "labelPadding": 41, "labelBaseline": "middle", "title": null}},
            "y2": {"field": "hi"}
          }},
        {"data": {"name": "j1659"}, "mark": {"type": "rule", "color": "#19a7e0", "strokeWidth": 3.2, "clip": true},
          "encoding": {"y": {"field": "lo", "type": "quantitative", "scale": {"type": "log", "domain": [0.0812, 3.0], "nice": false}, "axis": null}, "y2": {"field": "hi"}}},
        {"data": {"values": [
            {"name": "4U 1630-472", "mjd": 55257.5, "rate": 1.72},
            {"name": "MAXI J1659-152", "mjd": 55493.4, "rate": 1.586},
            {"name": "MAXI J1543-564", "mjd": 55728.5, "rate": 0.589}
          ]},
          "mark": {"type": "text", "font": "Liberation Serif", "fontSize": 18, "align": "center", "baseline": "middle"},
          "encoding": {
            "y": {"field": "rate", "type": "quantitative", "scale": {"type": "log", "domain": [0.0812, 3.0], "nice": false}, "axis": null},
            "text": {"field": "name"},
            "color": {"field": "name", "type": "nominal", "legend": null,
              "scale": {"domain": ["XTE J1752-223", "GX 339-4", "H 1743-322", "4U 1630-472", "MAXI J1659-152", "MAXI J1543-564"], "range": ["#262626", "#262626", "#19a7e0", "#262626", "#19a7e0", "#262626"]}}
          }}
      ]
    }
  ]
}
